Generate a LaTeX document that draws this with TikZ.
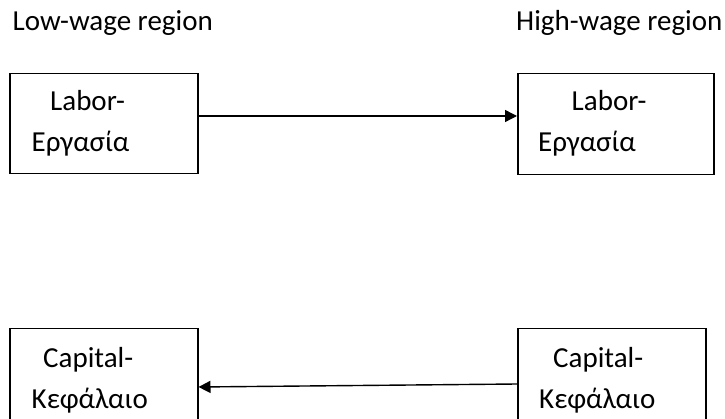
\documentclass[tikz,border=0pt]{standalone}
\usepackage{fontspec}
\setmainfont{Carlito}
\usetikzlibrary{arrows.meta}
\begin{document}
\begin{tikzpicture}[x=1pt,y=-1pt,
  boxst/.style={draw,line width=1.5pt,inner sep=0pt,anchor=north west},
  txt/.style={anchor=base west,inner sep=0pt,font=\fontsize{29}{35}\selectfont},
  conn/.style={line width=1.4pt,-{Triangle[length=12pt,width=12pt]}}]
\clip (0,0) rectangle (725,419);
\useasboundingbox (0,0) rectangle (725,419);
% headers
\node[txt] (hl) at (12.5,31) {Low-wage region};
\node[txt] (hh) at (516,31) {High-wage region};
% boxes
\node[boxst,minimum width=188pt,minimum height=100pt] (b1) at (9,73) {};
\node[boxst,minimum width=196pt,minimum height=101pt] (b2) at (517,73) {};
\node[boxst,minimum width=188pt,minimum height=120pt] (b3) at (9,328) {};
\node[boxst,minimum width=188pt,minimum height=120pt] (b4) at (517,328) {};
% texts
\node[txt] (t1a) at (50,111) {Labor-};
\node[txt] (t1b) at (31.5,152) {Εργασία};
\node[txt] (t2a) at (571.5,111) {Labor-};
\node[txt] (t2b) at (538,152) {Εργασία};
\node[txt] (t3a) at (43,367) {Capital-};
\node[txt] (t3b) at (31.5,408) {Κεφάλαιο};
\node[txt] (t4a) at (553,367) {Capital-};
\node[txt] (t4b) at (539,408) {Κεφάλαιο};
% connectors
\draw[conn] (b1.east |- 0,116) -- (b2.west |- 0,116);
\draw[conn] (b4.west |- 0,384) -- (b3.east |- 0,387);
\end{tikzpicture}
\end{document}
